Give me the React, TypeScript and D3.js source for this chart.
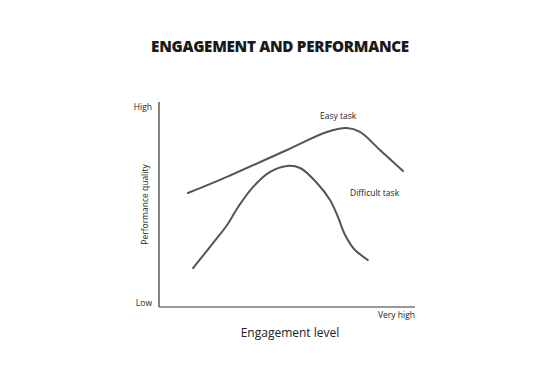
import React from "react";
import * as d3 from "d3";

const easyX = [11.3, 23.8, 50.0, 65.6, 73.4, 78.5, 86.3, 95.3];
const easyY = [55.6, 62.0, 76.6, 85.4, 87.3, 85.4, 76.6, 66.3];
const diffX = [13.3, 21.1, 26.6, 30.9, 36.7, 43.4, 50.0, 55.1, 61.7, 66.8, 69.9, 72.7, 76.2, 81.6];
const diffY = [19.0, 31.2, 40.0, 48.8, 58.5, 65.9, 68.8, 67.8, 60.5, 52.2, 43.9, 35.1, 28.3, 22.9];
const seriesLabels = ["Easy task", "Difficult task"];
const yTickLabels = ["Low", "High"];
const xTickLabels = ["Very high"];
const title = "ENGAGEMENT AND PERFORMANCE";
const xTitle = "Engagement level";
const yTitle = "Performance quality";

export default function App() {
  const W = 560, H = 381;
  const x = d3.scaleLinear().domain([0, 100]).range([159, 415]);
  const y = d3.scaleLinear().domain([0, 100]).range([307, 102]);
  const line = d3
    .line<[number, number]>()
    .x((d) => x(d[0]))
    .y((d) => y(d[1]))
    .curve(d3.curveCatmullRom.alpha(0.5));
  const easy = easyX.map((v, i) => [v, easyY[i]] as [number, number]);
  const diff = diffX.map((v, i) => [v, diffY[i]] as [number, number]);
  const font = "'Open Sans', sans-serif";
  return (
    <svg
      width={W}
      height={H}
      style={{ position: "absolute", left: 0, top: 0, background: "#fff" }}
    >
      <text
        x={280}
        y={52}
        textAnchor="middle"
        fontFamily={font}
        fontWeight={800}
        fontSize={15.2}
        fill="#1a1a1a"
        letterSpacing={-0.3}
      >
        {title}
      </text>
      {/* axes */}
      <line x1={x(0)} y1={y(100)} x2={x(0)} y2={y(0)} stroke="#666" strokeWidth={1.6} />
      <line x1={x(0)} y1={y(0)} x2={x(100)} y2={y(0)} stroke="#777" strokeWidth={1.6} />
      {/* curves */}
      <path d={line(easy) || ""} fill="none" stroke="#555" strokeWidth={2} strokeLinecap="round" />
      <path d={line(diff) || ""} fill="none" stroke="#555" strokeWidth={2} strokeLinecap="round" />
      {/* tick labels */}
      <text x={x(0) - 7} y={y(100) + 8} textAnchor="end" fontFamily={font} fontSize={8.5} fill="#222">
        {yTickLabels[1]}
      </text>
      <text x={x(0) - 7} y={y(0) - 1} textAnchor="end" fontFamily={font} fontSize={8.5} fill="#222">
        {yTickLabels[0]}
      </text>
      <text x={x(100)} y={y(0) + 11} textAnchor="end" fontFamily={font} fontSize={8.5} fill="#222">
        {xTickLabels[0]}
      </text>
      {/* series labels */}
      <text x={320} y={119} fontFamily={font} fontSize={8.5} fill="#222">
        {seriesLabels[0]}
      </text>
      <text x={350} y={196} fontFamily={font} fontSize={8.5} fill="#222">
        {seriesLabels[1]}
      </text>
      {/* axis titles */}
      <text x={290} y={337} textAnchor="middle" fontFamily={font} fontSize={12} fill="#222">
        {xTitle}
      </text>
      <text
        transform={`translate(148, ${y(50)}) rotate(-90)`}
        textAnchor="middle"
        fontFamily={font}
        fontSize={8.5}
        fill="#222"
      >
        {yTitle}
      </text>
    </svg>
  );
}
